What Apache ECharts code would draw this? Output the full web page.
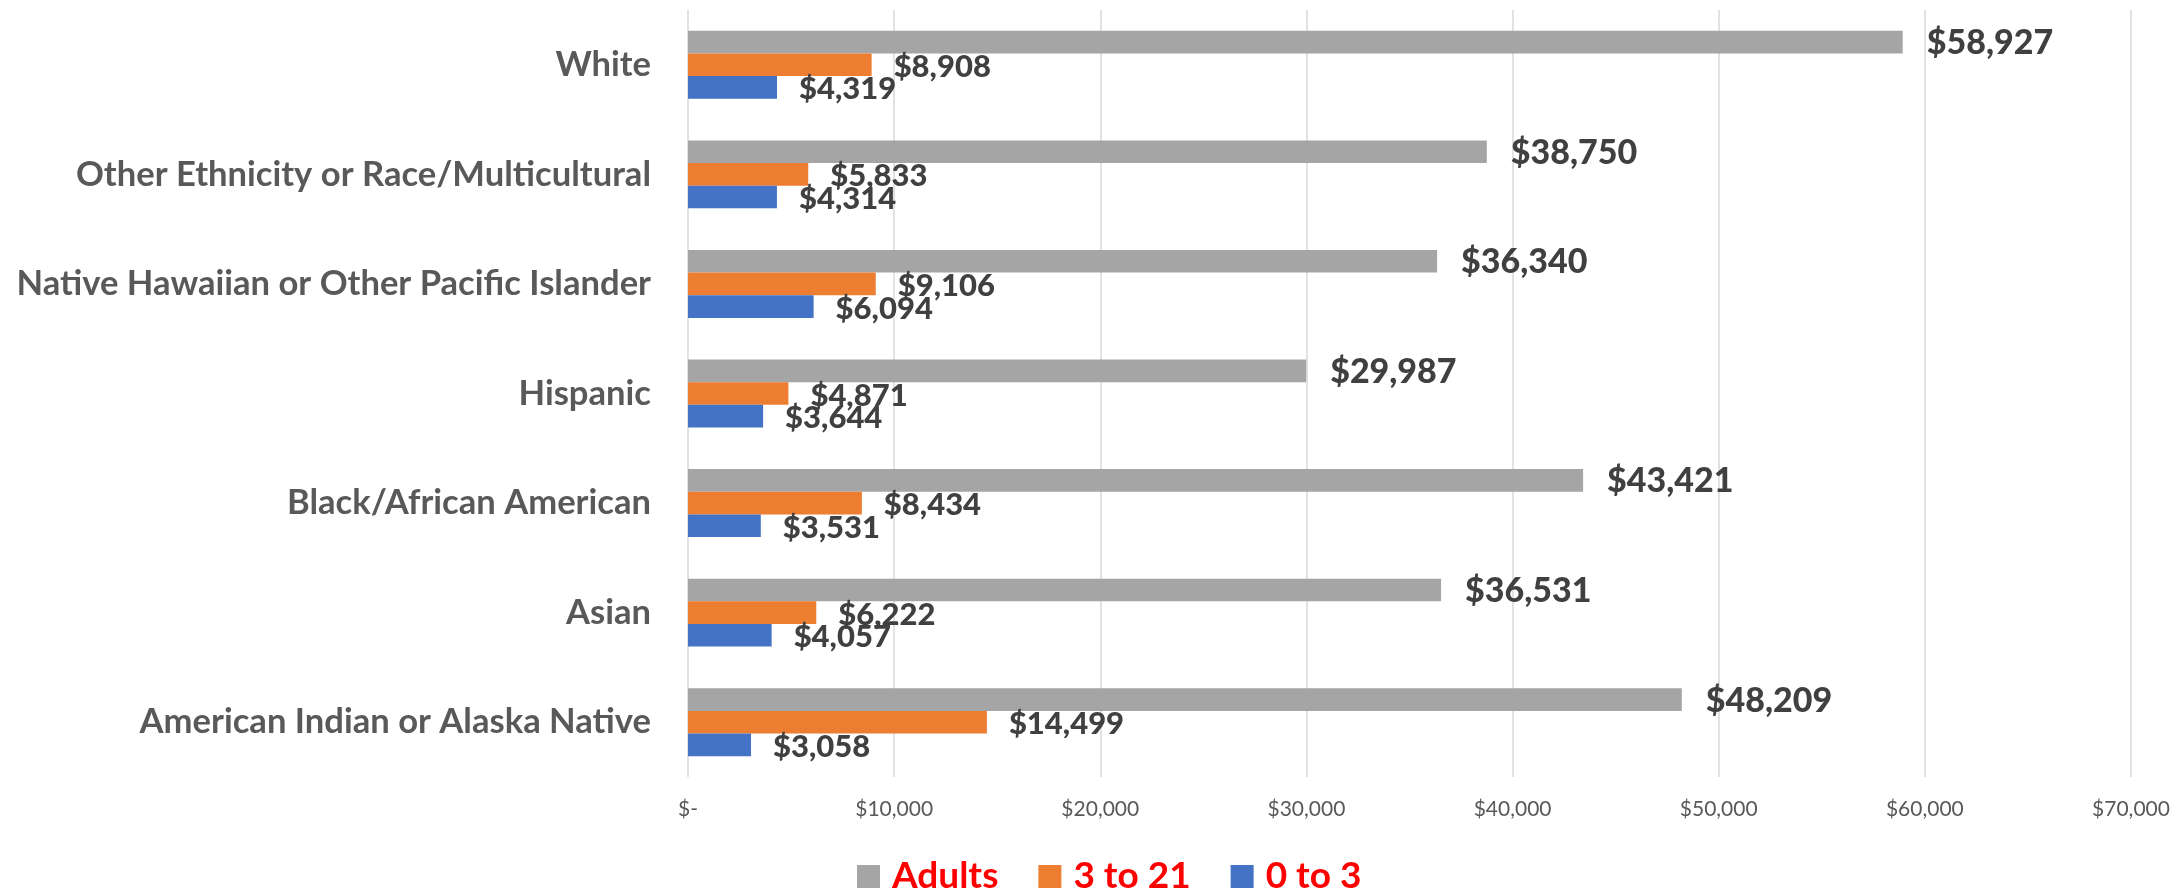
<!DOCTYPE html>
<html>
<head>
<meta charset="utf-8">
<script src="https://cdn.jsdelivr.net/npm/echarts@6/dist/echarts.min.js"></script>
<style>
html,body{margin:0;padding:0;background:#fff;}
#chart{width:2178px;height:890px;}
</style>
</head>
<body>
<div id="chart"></div>
<script>
const categories = [
  'American Indian or Alaska Native',
  'Asian',
  'Black/African American',
  'Hispanic',
  'Native Hawaiian or Other Pacific Islander',
  'Other Ethnicity or Race/Multicultural',
  'White'
];
const adults = [48209, 36531, 43421, 29987, 36340, 38750, 58927];
const age3to21 = [14499, 6222, 8434, 4871, 9106, 5833, 8908];
const age0to3 = [3058, 4057, 3531, 3644, 6094, 4314, 4319];
const seriesNames = ['Adults', '3 to 21', '0 to 3'];
const axisTicks = [0, 10000, 20000, 30000, 40000, 50000, 60000, 70000];

const FONT = 'Lato';
function money(v) {
  if (v === 0) return '$-';
  return '$' + Number(v).toLocaleString('en-US');
}

const chart = echarts.init(document.getElementById('chart'));
const smallLabel = {
  show: true, position: 'right', distance: 22,
  formatter: p => money(p.value),
  fontFamily: FONT, fontWeight: 900, fontSize: 31, color: '#404040', offset: [0, 2]
};
const bigLabel = Object.assign({}, smallLabel, { fontSize: 34, distance: 24, offset: [0, 1] });

chart.setOption({
  animation: false,
  backgroundColor: '#ffffff',
  grid: { left: 688, right: 47, top: 10, bottom: 113, containLabel: false },
  legend: {
    data: seriesNames,
    left: 852, top: 853,
    itemWidth: 23, itemHeight: 23, itemGap: 40,
    icon: 'rect',
    textStyle: { fontFamily: FONT, fontWeight: 'bold', fontSize: 37, color: '#FF0000', lineHeight: 37, padding: [0, 0, 0, 7] }
  },
  xAxis: {
    type: 'value', min: axisTicks[0], max: axisTicks[axisTicks.length - 1], interval: 10000,
    axisLine: { show: false }, axisTick: { show: false },
    splitLine: { show: true, lineStyle: { color: '#D9D9D9', width: 1.5 } },
    axisLabel: { formatter: money, fontFamily: FONT, fontSize: 21, color: '#595959', margin: 22 }
  },
  yAxis: {
    type: 'category', data: categories,
    axisLine: { show: false }, axisTick: { show: false },
    axisLabel: { fontFamily: FONT, fontWeight: 'bold', fontSize: 34.6, color: '#595959', margin: 37 }
  },
  series: [
    { name: 'Adults', type: 'bar', data: adults, itemStyle: { color: '#A5A5A5' }, barGap: '0%', barCategoryGap: '38%', label: bigLabel },
    { name: '3 to 21', type: 'bar', data: age3to21, itemStyle: { color: '#ED7D31' }, barGap: '0%', barCategoryGap: '38%', label: smallLabel },
    { name: '0 to 3', type: 'bar', data: age0to3, itemStyle: { color: '#4472C4' }, barGap: '0%', barCategoryGap: '38%', label: smallLabel }
  ]
});
</script>
</body>
</html>
